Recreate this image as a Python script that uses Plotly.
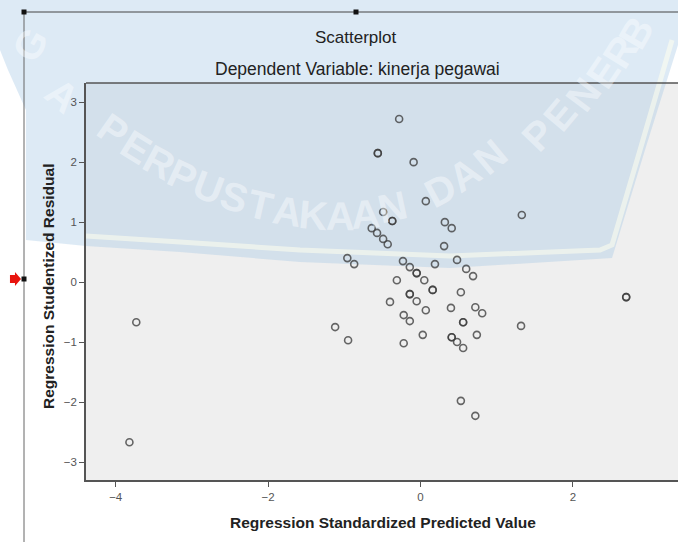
import plotly.graph_objects as go

W, H = 678, 542

# Regression Standardized Predicted Value (x) and Studentized Residual (y)
pred = [-0.28, -0.56, -0.56, -0.09, 0.07, -0.49, -0.37, -0.37, -0.64, -0.57,
        -0.49, -0.43, -0.96, -0.87, 0.32, 0.41, 0.31, 1.33, -0.23, -0.14,
        -0.05, -0.05, 0.05, -0.31, 0.16, 0.16, -0.14, -0.14, -0.05, -0.40,
        0.07, -0.22, -0.14, 0.40, 0.19, 0.48, 0.60, 0.69, 0.53, 0.72,
        0.81, 0.56, 0.56, 1.32, 0.41, 0.41, 0.48, 0.56, 0.74, 2.70,
        2.70, -1.12, -0.95, -0.22, 0.03, 0.53, 0.72, -3.73, -3.82]
resid = [2.72, 2.15, 2.15, 2.00, 1.35, 1.17, 1.02, 1.02, 0.90, 0.82,
         0.72, 0.63, 0.40, 0.30, 1.00, 0.90, 0.60, 1.12, 0.35, 0.25,
         0.15, 0.15, 0.03, 0.03, -0.13, -0.13, -0.20, -0.20, -0.32, -0.33,
         -0.47, -0.55, -0.65, -0.43, 0.30, 0.37, 0.22, 0.10, -0.17, -0.42,
         -0.52, -0.67, -0.67, -0.73, -0.92, -0.92, -1.00, -1.10, -0.88, -0.25,
         -0.25, -0.75, -0.97, -1.02, -0.88, -1.98, -2.23, -0.67, -2.67]

x_ticks = [-4, -2, 0, 2]
y_ticks = [-3, -2, -1, 0, 1, 2, 3]

title_main = "Scatterplot"
title_sub = "Dependent Variable: kinerja pegawai"
x_title = "Regression Standardized Predicted Value"
y_title = "Regression Studentized Residual"

# faint library watermark letters: (letter, x px, y px, rotation)
wm_letters = [("P", 113, 130, 35), ("E", 136, 147, 32), ("R", 159, 162, 28),
              ("P", 183, 176, 25), ("U", 208, 187, 21), ("S", 234, 197, 17),
              ("T", 260, 205, 13), ("A", 287, 211, 9), ("K", 313, 215, 5),
              ("A", 340, 216, 1), ("A", 366, 214, -4), ("N", 392, 207, -12),
              ("D", 440, 190, -28), ("A", 465, 174, -34), ("N", 490, 157, -40),
              ("P", 538, 135, -46), ("E", 560, 115, -50), ("N", 583, 95, -53),
              ("E", 603, 73, -56), ("R", 620, 52, -58), ("B", 636, 33, -60),
              ("G", 30, 45, -60), ("A", 62, 95, 40)]


def px(x):
    return x / W


def py(y):
    return 1 - y / H


def ppath(points, close=True):
    s = "M " + " L ".join(f"{px(a):.4f},{py(b):.4f}" for a, b in points)
    return s + (" Z" if close else "")


FONT = "Liberation Sans, Arial, sans-serif"

fig = go.Figure()
fig.add_trace(go.Scatter(
    x=pred, y=resid, mode="markers",
    marker=dict(symbol="circle-open", size=7, color="rgba(60,60,60,0.78)",
                line=dict(width=1.6)),
    hoverinfo="x+y", showlegend=False,
))

# light blue watermark tint (approximate)
tint = [(22, 0), (678, 0), (678, 45), (645, 150), (612, 258), (450, 268),
        (300, 262), (180, 252), (86, 246), (26, 240), (26, 110), (8, 70), (0, 50), (0, 0)]
band = [(86, 236), (180, 242), (300, 250), (450, 256), (600, 250), (612, 245),
        (640, 150), (672, 40)]

shapes = [
    dict(type="path", xref="paper", yref="paper", path=ppath(tint),
         fillcolor="rgba(165,200,228,0.38)", line=dict(width=0), layer="below"),
    dict(type="path", xref="paper", yref="paper", path=ppath(band, close=False),
         line=dict(color="rgba(255,255,238,0.55)", width=5), layer="below"),
    # top border of plot area (right edge is cut off in the picture)
    dict(type="line", xref="paper", yref="paper", x0=px(86), x1=1.0,
         y0=py(83), y1=py(83), line=dict(color="#555", width=1.5)),
    # frame lines of the chart editor
    dict(type="line", xref="paper", yref="paper", x0=px(24), x1=px(24),
         y0=py(12), y1=py(542), line=dict(color="#666", width=1)),
    dict(type="line", xref="paper", yref="paper", x0=px(24), x1=px(678),
         y0=py(12), y1=py(12), line=dict(color="#444", width=1)),
]
for hx, hy in [(24, 12), (356, 12), (24, 279)]:
    shapes.append(dict(type="rect", xref="paper", yref="paper",
                       x0=px(hx - 2.5), x1=px(hx + 2.5), y0=py(hy - 2.5), y1=py(hy + 2.5),
                       fillcolor="#111", line=dict(width=0)))
# red arrow marker
arrow = [(10, 275), (15, 275), (15, 272), (21, 279), (15, 286), (15, 283), (10, 283)]
shapes.append(dict(type="path", xref="paper", yref="paper", path=ppath(arrow),
                   fillcolor="#e8140e", line=dict(width=0)))

annotations = []
for ch, lx, ly, rot in wm_letters:
    annotations.append(dict(text="<b>" + ch + "</b>", x=px(lx), y=py(ly), xref="paper", yref="paper",
                            showarrow=False, textangle=rot,
                            font=dict(family=FONT, size=40,
                                      color="rgba(255,255,255,0.42)"),
                            xanchor="center", yanchor="middle"))

annotations += [
    dict(text=title_main, x=px(356), y=py(38), xref="paper", yref="paper",
         showarrow=False, font=dict(family=FONT, size=17, color="#222"),
         xanchor="center", yanchor="middle"),
    dict(text=title_sub, x=px(357), y=py(69), xref="paper", yref="paper",
         showarrow=False, font=dict(family=FONT, size=17.5, color="#222"),
         xanchor="center", yanchor="middle"),
    dict(text="<b>" + x_title + "</b>", x=px(383), y=py(522), xref="paper", yref="paper",
         showarrow=False, font=dict(family=FONT, size=15.5, color="#222"),
         xanchor="center", yanchor="middle"),
    dict(text="<b>" + y_title + "</b>", x=px(48), y=py(287), xref="paper", yref="paper",
         showarrow=False, textangle=-90, font=dict(family=FONT, size=15.5, color="#222"),
         xanchor="center", yanchor="middle"),
]

fig.update_layout(
    width=W, height=H,
    margin=dict(l=0, r=0, t=0, b=0),
    paper_bgcolor="white",
    plot_bgcolor="#efefef",
    font=dict(family=FONT),
    showlegend=False,
    shapes=shapes,
    annotations=annotations,
    xaxis=dict(domain=[px(86), 1.0], range=[-4.39, 3.38], tickvals=x_ticks,
               ticks="outside", ticklen=5, tickwidth=1.2, tickcolor="#555",
               showline=True, linecolor="#555", linewidth=1.5, mirror=False,
               showgrid=False, zeroline=False,
               tickfont=dict(size=11.5, color="#555", family=FONT)),
    yaxis=dict(domain=[py(480), py(83)], range=[-3.3, 3.32], tickvals=y_ticks,
               ticks="outside", ticklen=5, tickwidth=1.2, tickcolor="#555",
               showline=True, linecolor="#555", linewidth=1.5, mirror=False,
               showgrid=False, zeroline=False,
               tickfont=dict(size=11.5, color="#555", family=FONT)),
)

fig.write_html("out.html", config={"displayModeBar": False},
               post_script="document.body.style.margin='0';")
